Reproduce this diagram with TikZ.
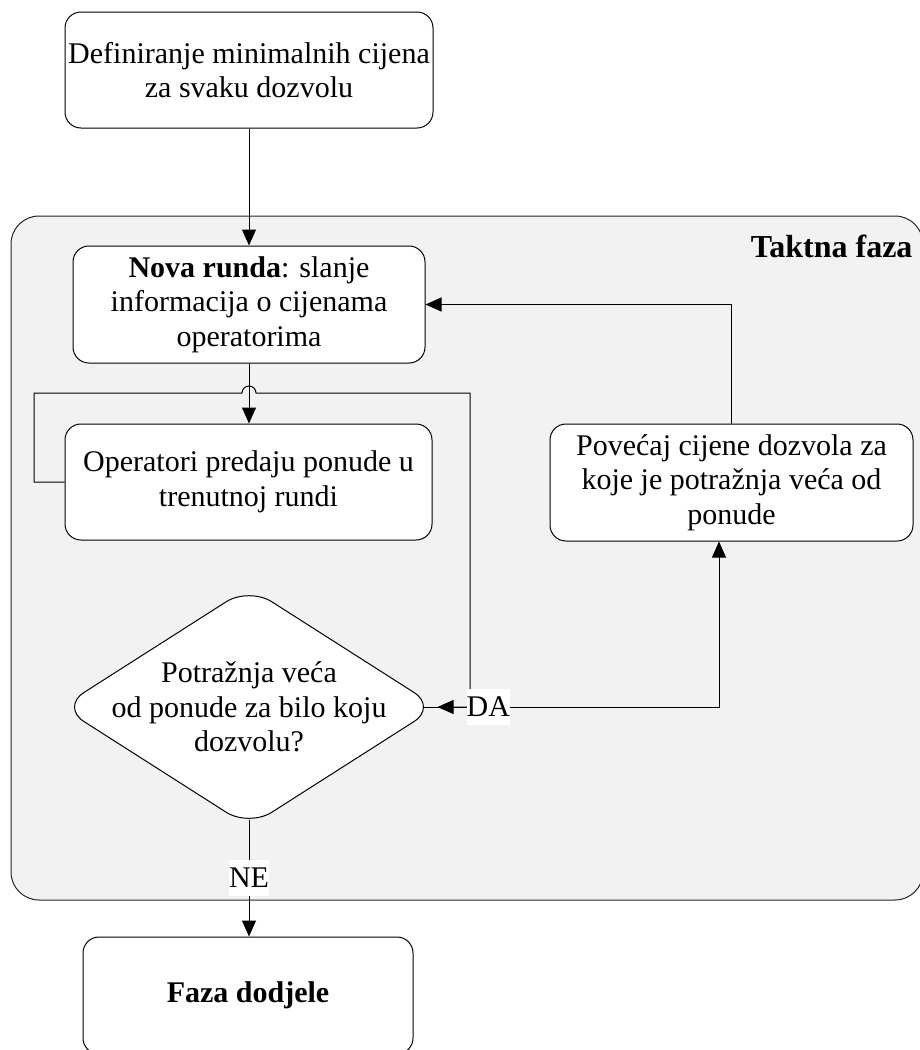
\documentclass[tikz,border=0pt]{standalone}
\usepackage{fontspec}
\setmainfont{Liberation Serif}
\usetikzlibrary{arrows.meta,calc,shapes.geometric}

\begin{document}
\begin{tikzpicture}[x=1pt,y=-1pt,
  font=\fontsize{30}{34.5}\selectfont,
  line width=1pt,
  box/.style={draw=black, fill=white, rounded corners=16pt, align=center, inner sep=0pt},
  decision/.style={draw=black, fill=white, shape=diamond, rounded corners=27pt, inner sep=0pt},
  arr/.style={-{Triangle[length=16pt,width=14pt]}},
  lbl/.style={fill=white, inner xsep=0pt, inner ysep=0pt, minimum height=36pt},
  phase/.style={draw=black!85, fill=black!5, rounded corners=28pt, inner sep=0pt}]

\useasboundingbox (0,0) rectangle (920,1050);
\clip (0,0) rectangle (920,1050);

% clocked phase container
\node[phase, minimum width=912pt, minimum height=684pt] (takt) at (467,558) {};
\node[anchor=base east, inner sep=0pt, font=\fontsize{32}{36}\selectfont\bfseries]
  (taktlbl) at (913,257) {Taktna faza};

% process steps
\node[box, minimum width=368pt, minimum height=116pt] (def) at (249,70)
  {Definiranje minimalnih cijena\\za svaku dozvolu};
\node[box, minimum width=352pt, minimum height=117pt] (nova) at (249,304.5)
  {\textbf{Nova runda}: slanje\\informacija o cijenama\\operatorima};
\node[box, minimum width=367pt, minimum height=116pt] (oper) at (248.5,482)
  {Operatori predaju ponude u\\trenutnoj rundi};
\node[box, minimum width=363pt, minimum height=117pt] (pov) at (731.5,482.5)
  {Povećaj cijene dozvola za\\koje je potražnja veća od\\ponude};
\node[decision, minimum width=376pt, minimum height=240pt,
  label={[align=center]center:Potražnja veća\\od ponude za bilo koju\\dozvolu?}] (d) at (249,707) {};
\node[box, minimum width=330pt, minimum height=117pt] (faza) at (248,995.5)
  {\textbf{Faza dodjele}};

% helper points of the connectors
\coordinate (loopL) at (34,393);
\coordinate (loopR) at (470,393);
\coordinate (dv) at ($(d.east)+(-15,0)$);
\coordinate (db) at ($(d.south)+(0,-8)$);
\coordinate (daT) at (719,707);

% connectors
\draw[arr] (def.south) -- (nova.north);
\draw[arr] (nova.south) -- (nova.south |- oper.north);
\draw[arr] (oper.west) -| (loopL) -- ($(loopL -| nova.south)+(-7,0)$)
  arc[start angle=180, end angle=360, radius=7] -- (loopR) |- (d.east);
\draw[arr] (pov.north) |- (nova.east);
\draw[arr] (dv) -- node[lbl, pos=0.222] {DA} (daT) -- (daT |- pov.south);
\draw[arr] (db) -- node[lbl, pos=0.5] {NE} (db |- faza.north);
\end{tikzpicture}
\end{document}
